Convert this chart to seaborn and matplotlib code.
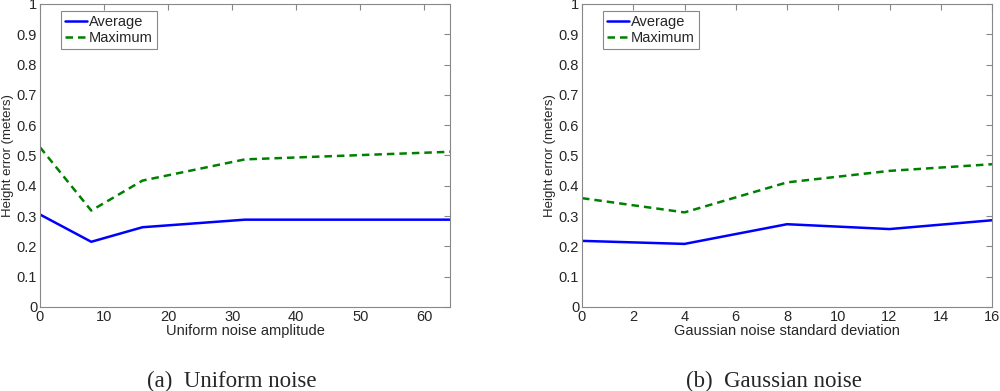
import numpy as np
import pandas as pd
import seaborn as sns
import matplotlib.pyplot as plt

# Data
uniform_amp = [0, 8, 16, 32, 64]
uniform_avg = [0.305, 0.215, 0.263, 0.288, 0.288]
uniform_max = [0.527, 0.318, 0.417, 0.487, 0.512]

gauss_std = [0, 4, 8, 12, 16]
gauss_avg = [0.218, 0.208, 0.273, 0.257, 0.286]
gauss_max = [0.359, 0.312, 0.411, 0.449, 0.471]

sns.set_style("white")
plt.rcParams['font.family'] = ['Liberation Sans', 'DejaVu Sans']

fig = plt.figure(figsize=(10, 3.91), dpi=100)
ax1 = fig.add_axes([0.040, 0.215, 0.410, 0.775])
ax2 = fig.add_axes([0.582, 0.215, 0.410, 0.775])

panels = [
    (ax1, uniform_amp, uniform_avg, uniform_max, 'Uniform noise amplitude',
     [0, 64], np.arange(0, 61, 10), '(a)  Uniform noise', 0.232),
    (ax2, gauss_std, gauss_avg, gauss_max, 'Gaussian noise standard deviation',
     [0, 16], np.arange(0, 17, 2), '(b)  Gaussian noise', 0.774),
]

for ax, x, avg, mx, xlabel, xlim, xticks, caption, cx in panels:
    df = pd.DataFrame({'x': x, 'Average': avg, 'Maximum': mx})
    sns.lineplot(data=df, x='x', y='Average', ax=ax, color='#0000ff',
                 lw=1.8, label='Average')
    sns.lineplot(data=df, x='x', y='Maximum', ax=ax, color='#008000',
                 lw=1.8, ls=(0, (3, 2)), label='Maximum')
    ax.set_xlim(xlim)
    ax.set_ylim(0, 1)
    ax.set_xticks(xticks)
    ax.set_yticks(np.arange(0, 1.01, 0.1))
    ax.set_yticklabels(['0'] + [f'{v:.1f}' for v in np.arange(0.1, 0.95, 0.1)] + ['1'])
    ax.tick_params(direction='in', length=4, top=True, right=True,
                   labelsize=10.5, color='#888888', pad=2)
    for s in ax.spines.values():
        s.set_color('#888888')
        s.set_linewidth(0.8)
    ax.set_xlabel(xlabel, fontsize=10.5, labelpad=0)
    ax.set_ylabel('Height error (meters)', fontsize=9.5, labelpad=2)
    leg = ax.legend(loc='upper left', bbox_to_anchor=(0.045, 0.985), fontsize=10.5,
                    fancybox=False, framealpha=1, edgecolor='#888888',
                    handlelength=1.5, handletextpad=0.15, borderpad=0.25,
                    labelspacing=0.15, borderaxespad=0.2)
    leg.get_frame().set_linewidth(0.8)
    fig.text(cx, 1 - 381 / 391, caption, ha='center', va='center',
             fontsize=16.5, family='Liberation Serif')

fig.savefig('out.png', dpi=100)
